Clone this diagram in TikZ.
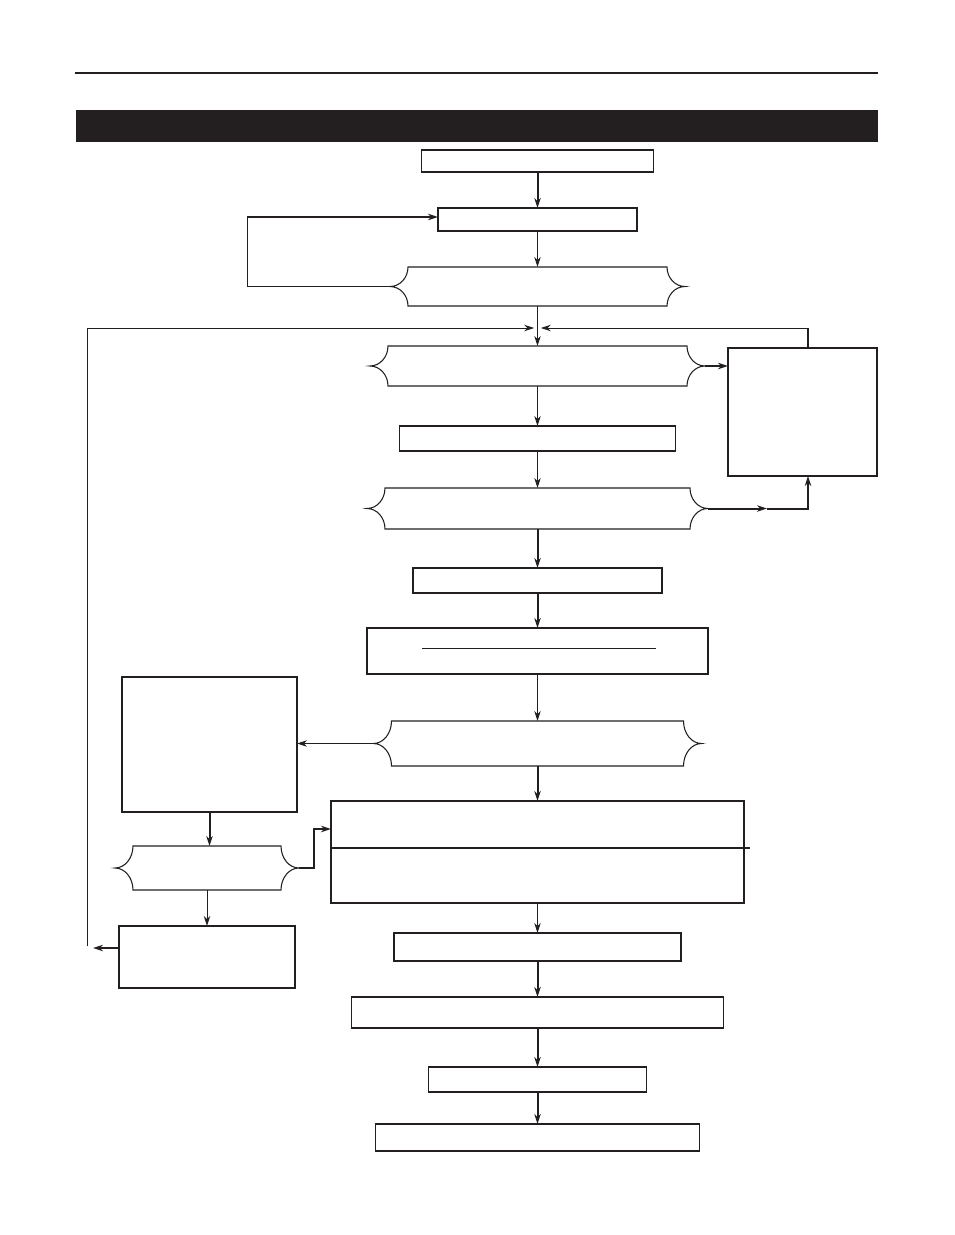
\documentclass[tikz,border=0pt]{standalone}
\usetikzlibrary{arrows.meta}
\definecolor{ink}{HTML}{231F20}

% outline of a decision box: node name, height in px
\newcommand{\bracebox}[2]{%
  \draw[decline] (#1.north west) -- (#1.north east)
    arc[start angle=180,end angle=270,x radius=13.5pt,y radius=#2*0.375pt]
    arc[start angle=90,end angle=180,x radius=13.5pt,y radius=#2*0.375pt]
    -- (#1.south west)
    arc[start angle=0,end angle=90,x radius=13.5pt,y radius=#2*0.375pt]
    arc[start angle=270,end angle=360,x radius=13.5pt,y radius=#2*0.375pt]
    -- cycle;
  \coordinate (#1-l) at ([xshift=-13.5pt]#1.west);
  \coordinate (#1-r) at ([xshift=13.5pt]#1.east);}

\begin{document}
\begin{tikzpicture}[
    x=0.75pt,y=-0.75pt,
    box/.style={draw=ink,line width=1.1pt,inner sep=0pt,outer sep=0pt},
    dec/.style={inner sep=0pt,outer sep=0pt},
    decline/.style={draw=ink,line width=0.8pt},
    sz/.style 2 args={minimum width=#1*0.75pt,minimum height=#2*0.75pt},
    wire/.style={draw=ink,line width=0.7pt},
    arrow/.style={wire,-{Stealth[length=7.5pt,width=4.8pt]}},
    tarrow/.style={arrow,line width=1.5pt}
  ]
    \useasboundingbox (0,0) rectangle (954,1235);
    % header
    \draw[ink,line width=1.5pt] (75,73) -- (878,73);
    \fill[ink] (76,110) rectangle (878,142);

    % main column
    \node[box,sz={232}{22}] (start) at (537.5,161) {};
    \node[box,sz={199}{23}] (reset) at (537.5,219.5) {};
    \node[dec,sz={259}{39}] (q1) at (537.5,286.5) {};
    \node[dec,sz={299}{40}] (q2) at (537.5,366) {};
    \node[box,sz={276}{25}] (step3) at (537.5,438.5) {};
    \node[dec,sz={305}{41}] (q3) at (537.5,508.5) {};
    \node[box,sz={249}{25}] (step4) at (537.5,580.5) {};
    \node[box,sz={341}{46}] (step5) at (537.5,651) {};
    \node[dec,sz={292}{45}] (q4) at (537.5,743.5) {};
    \node[box,sz={413}{102}] (step6) at (537.5,852) {};
    \node[box,sz={287}{28}] (step7) at (537.5,947) {};
    \node[box,sz={372}{31}] (step8) at (537.5,1012.5) {};
    \node[box,sz={218}{25}] (step9) at (537.5,1079.5) {};
    \node[box,sz={324}{27}] (finish) at (537.5,1137.5) {};
    % side boxes
    \node[box,sz={149}{128}] (fault) at (802.5,412) {};
    \node[box,sz={175}{135}] (check) at (209.5,744.5) {};
    \node[dec,sz={148}{44}] (q5) at (207,868) {};
    \node[box,sz={176}{62}] (repair) at (207,957) {};

    \bracebox{q1}{39}
    \bracebox{q2}{40}
    \bracebox{q3}{41}
    \bracebox{q4}{45}
    \bracebox{q5}{44}

    % inner rules
    \draw[wire] (422,648) -- (656,648);
    \draw[ink,line width=1.2pt] (step6.west |- 0,848) -- (750,848);

    \coordinate (join) at (537.5,328);
    \coordinate (loop1) at (247,217);
    \coordinate (rx) at (808,0);
    \coordinate (mid3) at (767,508.5);
    \coordinate (k5) at (314,829);
    \coordinate (la) at (93,948);
    \coordinate (lb) at (87,946);

    \draw[tarrow] (start) -- (reset);
    \draw[arrow] (reset) -- (q1);
    \draw[arrow] (q1) -- (q2);
    \draw[arrow] (q2) -- (step3);
    \draw[arrow] (step3) -- (q3);
    \draw[tarrow] (q3) -- (step4);
    \draw[tarrow] (step4) -- (step5);
    \draw[arrow] (step5) -- (q4);
    \draw[tarrow] (q4) -- (step6);
    \draw[arrow] (step6) -- (step7);
    \draw[tarrow] (step7) -- (step8);
    \draw[tarrow] (step8) -- (step9);
    \draw[tarrow] (step9) -- (finish);

    \draw[wire] (q1-l) -| (loop1);
    \draw[tarrow] (loop1) -- (reset.west |- loop1);
    \draw[tarrow] (q2-r) -- (fault.west |- q2-r);
    \draw[tarrow] (q3-r) -- (mid3);
    \draw[tarrow] (mid3) -| (fault.south -| rx);
    \draw[line width=1.5pt,draw=ink] (fault.north -| rx) -- (rx |- join);
    \draw[arrow,shorten >=2.5pt] (rx |- join) -- (join);
    \draw[arrow] (q4-l) -- (check.east |- q4-l);
    \draw[tarrow] (check.south) -- (check.south |- q5.north);
    \draw[arrow] (q5.south) -- (repair.north);
    \draw[tarrow] (q5-r) -| (k5) -- (step6.west |- k5);
    \draw[tarrow] (repair.west |- la) -- (la);
    \draw[arrow,shorten >=2.5pt] (lb) |- (join);
  \end{tikzpicture}
\end{document}
